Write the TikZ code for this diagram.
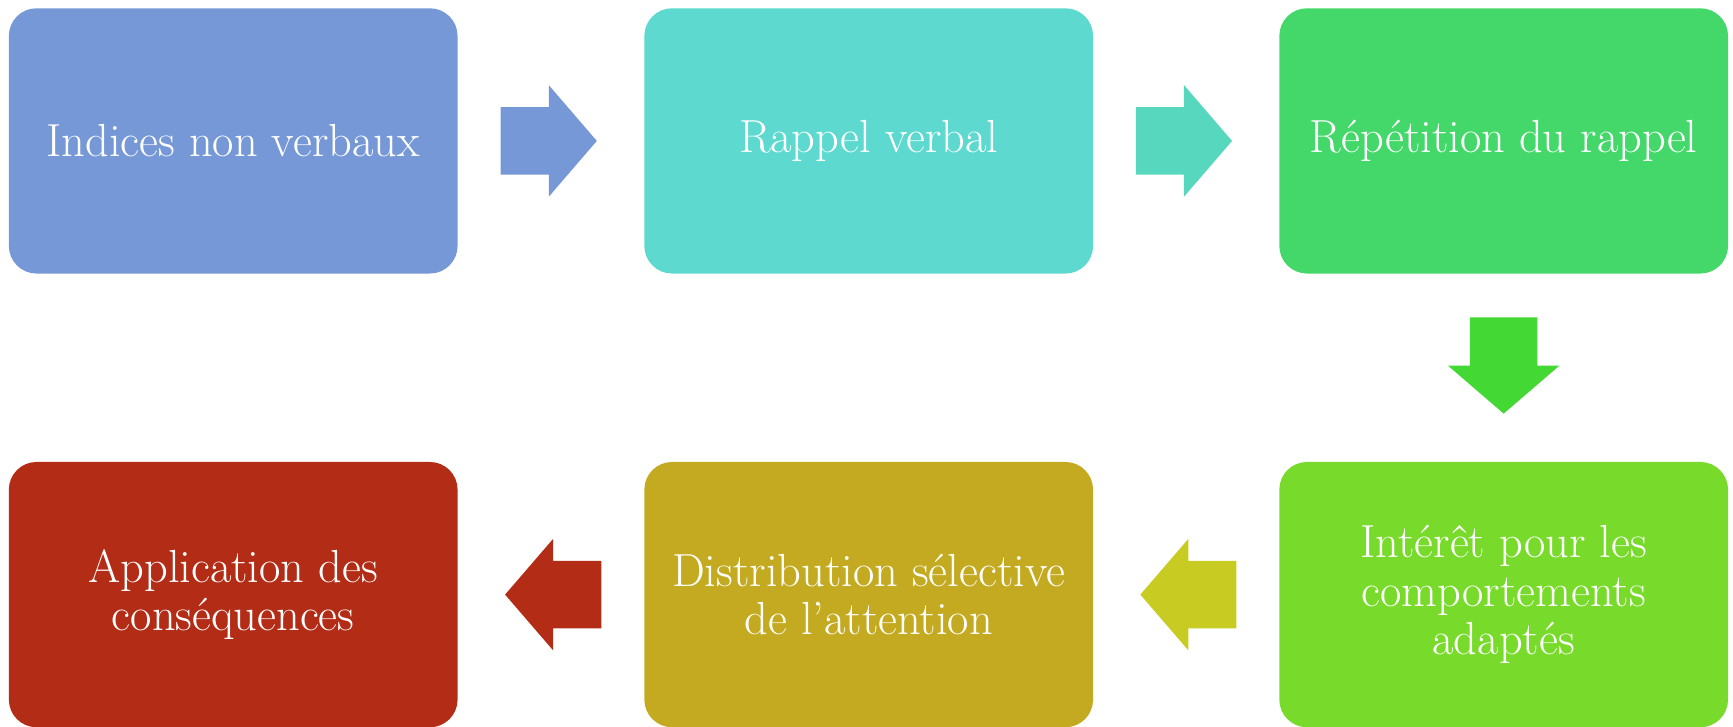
\documentclass[tikz,border=0pt]{standalone}
\usepackage{fontspec}
\usetikzlibrary{calc}
\definecolor{cA}{RGB}{118,152,215}
\definecolor{cB}{RGB}{93,217,208}
\definecolor{cC}{RGB}{68,216,106}
\definecolor{cD}{RGB}{120,218,42}
\definecolor{cE}{RGB}{196,170,32}
\definecolor{cF}{RGB}{179,44,22}
\definecolor{aB}{RGB}{87,216,190}
\definecolor{aC}{RGB}{68,216,52}
\definecolor{aD}{RGB}{200,204,34}
\tikzset{
  box/.style={draw=none, minimum width=406pt, minimum height=240pt, inner sep=0pt,
    rounded corners=25pt, text=white, align=center,
    font=\fontsize{42}{44}\selectfont},
  pics/blockarrow/.style={code={
    \fill[#1] (-43.5,-30.5) -- (0,-30.5) -- (0,-50.5) -- (43.5,0) -- (0,50.5) -- (0,30.5) -- (-43.5,30.5) -- cycle;}}
}
\begin{document}
\begin{tikzpicture}[x=1pt,y=1pt]
\useasboundingbox (0,0) rectangle (1568,657);
\begin{scope}
\clip (0,0) rectangle (1568,657);
\node[box, fill=cA] (b1) at (211,529.5) {Indices non verbaux};
\node[box, fill=cB] (b2) at (786,529.5) {Rappel verbal};
\node[box, fill=cC] (b3) at (1360.5,529.5) {Répétition du rappel};
\node[box, fill=cD] (b4) at (1360.5,119) {Intérêt pour les\\comportements\\adaptés};
\node[box, fill=cE] (b5) at (786,119) {Distribution sélective\\de l’attention};
\node[box, fill=cF] (b6) at (211,119) {Application des\\conséquences};
\pic at ($(b1.east)!0.5!(b2.west)+(-2,0)$) {blockarrow=cA};
\pic at ($(b2.east)!0.5!(b3.west)+(-2,0)$) {blockarrow=aB};
\pic[rotate=-90] at ($(b3.south)!0.5!(b4.north)+(0,2)$) {blockarrow=aC};
\pic[rotate=180] at ($(b4.west)!0.5!(b5.east)+(2,0)$) {blockarrow=aD};
\pic[rotate=180] at ($(b5.west)!0.5!(b6.east)+(2,0)$) {blockarrow=cF};
\end{scope}
\end{tikzpicture}
\end{document}
